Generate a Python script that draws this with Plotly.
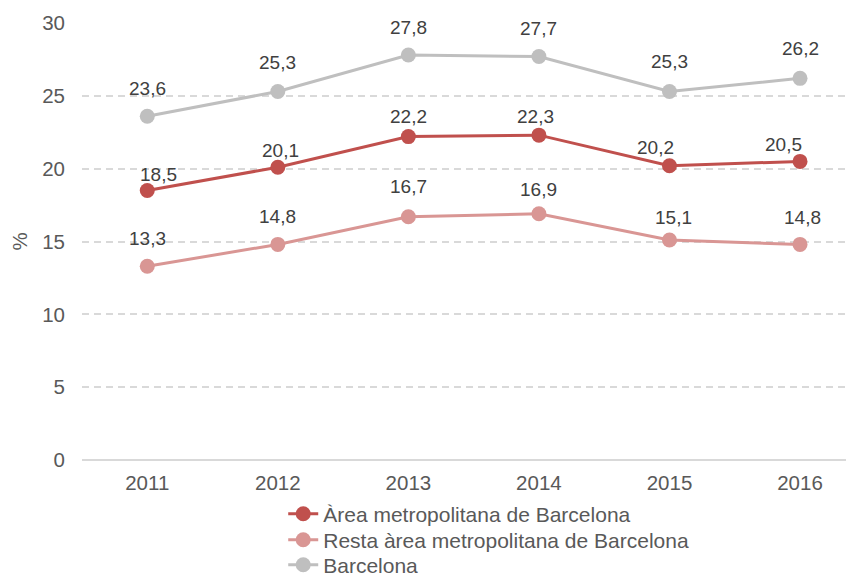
import plotly.graph_objects as go

years = ["2011", "2012", "2013", "2014", "2015", "2016"]
area_metro = [18.5, 20.1, 22.2, 22.3, 20.2, 20.5]
resta_area = [13.3, 14.8, 16.7, 16.9, 15.1, 14.8]
barcelona = [23.6, 25.3, 27.8, 27.7, 25.3, 26.2]

# label offsets in pixels (style only)
off_area = [(11, 16), (3, 17), (0, 20), (-3, 19), (-14, 18), (-17, 17)]
off_resta = [(0, 28), (0, 28), (0, 30), (0, 24), (4, 23), (2, 27)]
off_bcn = [(0, 28), (0, 29), (0, 28), (0, 28), (0, 30), (0, 30)]

series = [
    ("Àrea metropolitana de Barcelona", area_metro, "#C0504D", off_area, "legend"),
    ("Resta àrea metropolitana de Barcelona", resta_area, "#D99694", off_resta, "legend2"),
    ("Barcelona", barcelona, "#BFBFBF", off_bcn, "legend3"),
]

def fmt(v):
    return f"{v:.1f}".replace(".", ",")

FONT = "Liberation Sans, Arial"
W, H = 846, 569
L, R, T, B = 73.7, 844, 15.3, 452
PW, PH = R - L, B - T
STEP = 130.6

fig = go.Figure()
annotations = []
for name, vals, col, offs, lg in series:
    xs = list(range(len(years)))
    fig.add_trace(go.Scatter(
        x=xs, y=vals, name=name, mode="lines+markers", legend=lg,
        line=dict(color=col, width=3), marker=dict(color=col, size=15),
        cliponaxis=False,
    ))
    for xi, v, (dx, dy) in zip(xs, vals, offs):
        annotations.append(dict(
            x=xi, y=v, xref="x", yref="y", text=fmt(v), showarrow=False,
            xshift=dx, yshift=dy, xanchor="center", yanchor="middle",
            font=dict(size=19, color="#404040", family=FONT),
        ))

legend_x = (275 - L) / PW
legend_common = dict(orientation="v", x=legend_x, xanchor="left", yanchor="middle",
                     font=dict(size=21, color="#595959", family=FONT),
                     bgcolor="rgba(0,0,0,0)", borderwidth=0)
fig.update_layout(
    width=W, height=H, paper_bgcolor="white", plot_bgcolor="white",
    margin=dict(l=L, r=W - R, t=T, b=H - B, autoexpand=False),
    font=dict(family=FONT, color="#595959", size=20.5),
    showlegend=True,
    legend=dict(y=(B - 506) / PH, **legend_common),
    legend2=dict(y=(B - 532) / PH, **legend_common),
    legend3=dict(y=(B - 557) / PH, **legend_common),
    annotations=annotations,
)
fig.update_xaxes(
    tickmode="array", tickvals=list(range(len(years))), ticktext=years,
    range=[-0.5, -0.5 + PW / STEP], showgrid=False, zeroline=False,
    showline=False, ticks="", tickangle=0, ticklabelstandoff=8,
    tickfont=dict(size=20.5, color="#595959"),
)
fig.update_yaxes(
    range=[0, 30], dtick=5, showgrid=True, gridcolor="#D9D9D9", griddash="7px,5px",
    gridwidth=1.5, zeroline=True, zerolinecolor="#D9D9D9", zerolinewidth=2,
    ticks="", tickfont=dict(size=20.5, color="#595959"), ticklabelstandoff=16,
    title=dict(text="%", font=dict(size=20.5, color="#595959"), standoff=16),
)
fig.write_html("out.html")
